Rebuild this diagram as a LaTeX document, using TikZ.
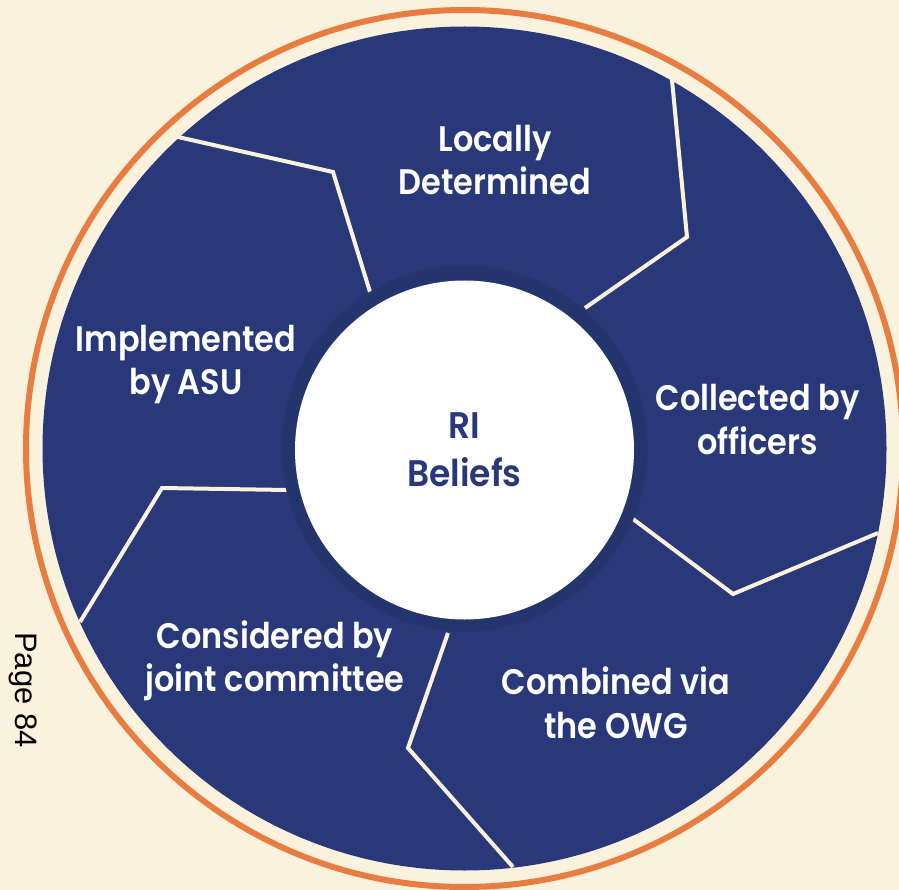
\documentclass[tikz,border=0pt]{standalone}
\usepackage{fontspec}
\setmainfont{Poppins}[BoldFont={Poppins SemiBold}]
\setsansfont{Liberation Sans}
\newfontfamily\stagefont{Poppins SemiBold}[FakeStretch=0.9]
\newfontfamily\hubfont{Poppins SemiBold}[FakeStretch=0.93]
\definecolor{paper}{HTML}{FBF2DE}
\definecolor{rim}{HTML}{E87D42}
\definecolor{wheel}{HTML}{283878}
\definecolor{hubring}{HTML}{24356E}
\tikzset{
  divider/.style={draw=paper, line width=4pt, line join=miter},
  stage/.style={text=white, align=center, font=\stagefont\fontsize{35.5}{43.5}\selectfont, inner sep=0pt},
}
\begin{document}
\begin{tikzpicture}[x=1pt,y=-1pt]
\useasboundingbox (0,0) rectangle (899,890);
\clip (0,0) rectangle (899,890);
\fill[paper] (0,0) rectangle (899,890);
\coordinate (O) at (464.5,448.5);
% outer rim and wheel
\draw[rim, line width=6pt] (O) circle[radius=438.5];
\fill[wheel] (O) circle[radius=422];
% dividers between the stages
\coordinate (d1a) at (370,292); \coordinate (d1b) at (333,172); \coordinate (d1c) at (178,137);
\coordinate (d2a) at (585,308); \coordinate (d2b) at (687,237); \coordinate (d2c) at (672,80);
\coordinate (d3a) at (633,519); \coordinate (d3b) at (733,594); \coordinate (d3c) at (878,533);
\coordinate (d4a) at (448,633); \coordinate (d4b) at (408,748); \coordinate (d4c) at (513,867);
\coordinate (d5a) at (287,490); \coordinate (d5b) at (162,488); \coordinate (d5c) at (80,622);
\draw[divider] (d1a) -- (d1b) -- (d1c);
\draw[divider] (d2a) -- (d2b) -- (d2c);
\draw[divider] (d3a) -- (d3b) -- (d3c);
\draw[divider] (d4a) -- (d4b) -- (d4c);
\draw[divider] (d5a) -- (d5b) -- (d5c);
% hub
\fill[hubring] (O) circle[radius=183];
\node[circle, fill=white, minimum size=339pt, inner sep=0pt, text=wheel, align=center,
      font=\hubfont\fontsize{37}{48}\selectfont] (hub) at (464.5,450) {RI\\Beliefs};
% stage labels
\node[stage] (locally) at (495,160) {Locally\\Determined};
\node[stage] (collected) at (757.5,419.5) {Collected by\\officers};
\node[stage] (combined) at (616,702.5) {Combined via\\the OWG};
\node[stage] (considered) at (275,661) {Considered by\\joint committee};
\node[stage] (implemented) at (186,364.5) {Implemented\\by ASU};
% page number
\node[rotate=-90, font=\sffamily\fontsize{31}{31}\selectfont, text=black, inner sep=0pt] (page) at (23,690) {Page 84};
\end{tikzpicture}
\end{document}
